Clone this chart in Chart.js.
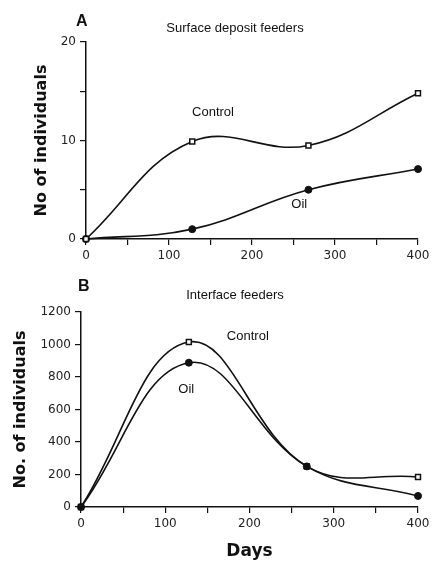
<!DOCTYPE html>
<html>
<head>
<meta charset="utf-8">
<script src="https://cdn.jsdelivr.net/npm/chart.js@4.4.1/dist/chart.umd.min.js"></script>
<style>
  html, body { margin: 0; padding: 0; background: #fff; }
  #wrap { position: relative; width: 434px; height: 562px; }
  #chartA { position: absolute; left: 0; top: 0; }
  #chartB { position: absolute; left: 0; top: 270px; }
</style>
</head>
<body>
<div id="wrap">
  <canvas id="chartA" width="434" height="270"></canvas>
  <canvas id="chartB" width="434" height="292"></canvas>
</div>
<script>
// sampling days
const days = [0, 128, 268, 400];

// A: surface deposit feeders
const surfaceControl = [0, 9.9, 9.5, 14.8];
const surfaceOil = [0, 1.0, 5.0, 7.1];

// B: interface feeders
const interfaceControl = [0, 1015, 250, 185];
const interfaceOil = [0, 888, 250, 68];

const xTickLabels = [0, 100, 200, 300, 400];
const yTickLabelsA = [0, 10, 20];
const yTickLabelsB = [0, 200, 400, 600, 800, 1000, 1200];

const toPoints = (vals) => days.map((d, i) => ({ x: d, y: vals[i] }));

// text placed on the plot in data units
const textPlugin = {
    id: 'panelText',
    afterDraw(chart, args, opts) {
        const ctx = chart.ctx;
        const xs = chart.scales.x, ys = chart.scales.y;
        ctx.save();
        ctx.fillStyle = '#111';
        ctx.textBaseline = 'middle';
        ctx.font = 'bold 16px "Liberation Sans", Arial, sans-serif';
        ctx.textAlign = 'left';
        ctx.fillText(opts.letter, opts.letterPos[0], opts.letterPos[1]);
        ctx.font = '13px "Liberation Sans", Arial, sans-serif';
        ctx.textAlign = 'center';
        ctx.fillText(opts.title, opts.titlePos[0], opts.titlePos[1]);
        opts.labels.forEach(l => {
            ctx.fillText(l.text, xs.getPixelForValue(l.x), ys.getPixelForValue(l.y));
        });
        ctx.restore();
    }
};

function makeChart(id, control, oil, yMax, yStep, yLabels, yTitle, yWidth, titlePad, xHeight, xTitle, oilOnTop, text) {
    const ctx = document.getElementById(id).getContext('2d');
    return new Chart(ctx, {
        type: 'line',
        data: {
            datasets: [{
                label: 'Control',
                data: toPoints(control),
                order: oilOnTop ? 1 : 0,
                clip: false,
                borderColor: '#111',
                borderWidth: 1.6,
                tension: 0.4,
                pointStyle: 'rect',
                pointRadius: 3.5,
                pointBackgroundColor: '#fff',
                pointBorderColor: '#111',
                pointBorderWidth: 1.5
            }, {
                label: 'Oil',
                data: toPoints(oil),
                order: oilOnTop ? 0 : 1,
                clip: false,
                borderColor: '#111',
                borderWidth: 1.6,
                tension: 0.4,
                pointStyle: 'circle',
                pointRadius: 3.5,
                pointBackgroundColor: '#111',
                pointBorderColor: '#111',
                pointBorderWidth: 1
            }]
        },
        options: {
            responsive: false,
            animation: false,
            layout: { padding: { top: 42, right: 16, left: 0, bottom: 0 } },
            plugins: {
                legend: { display: false },
                tooltip: { enabled: false },
                panelText: text
            },
            scales: {
                x: {
                    type: 'linear',
                    min: 0, max: 400,
                    afterFit: (s) => { s.height = xHeight; },
                    border: { display: true, color: '#111', width: 1.5 },
                    grid: { drawOnChartArea: false, drawTicks: true, tickLength: 6, color: '#111', lineWidth: 1.2 },
                    ticks: {
                        stepSize: 50,
                        autoSkip: false,
                        maxRotation: 0,
                        padding: 4,
                        color: '#222',
                        font: { family: '"DejaVu Sans", sans-serif', size: 12 },
                        callback: (v) => xTickLabels.includes(v) ? String(v) : ''
                    },
                    title: {
                        display: !!xTitle,
                        text: xTitle,
                        color: '#111',
                        font: { family: '"DejaVu Sans", sans-serif', size: 17, weight: 'bold' },
                        padding: { top: 0, bottom: 0 }
                    }
                },
                y: {
                    min: 0, max: yMax,
                    afterFit: (s) => { s.width = yWidth; },
                    border: { display: true, color: '#111', width: 1.5 },
                    grid: { drawOnChartArea: false, drawTicks: true, tickLength: 6, color: '#111', lineWidth: 1.2 },
                    ticks: {
                        stepSize: yStep,
                        autoSkip: false,
                        padding: 4,
                        color: '#222',
                        font: { family: '"DejaVu Sans", sans-serif', size: 12 },
                        callback: (v) => yLabels.includes(v) ? String(v) : ''
                    },
                    title: {
                        display: true,
                        text: yTitle,
                        color: '#111',
                        font: { family: '"DejaVu Sans", sans-serif', size: 16, weight: 'bold' },
                        padding: { top: titlePad, bottom: 0 }
                    }
                }
            }
        },
        plugins: [textPlugin]
    });
}

makeChart('chartA', surfaceControl, surfaceOil, 20, 5, yTickLabelsA, 'No of individuals', 86, 32, 31, '', false, {
    letter: 'A', letterPos: [76, 22],
    title: 'Surface deposit feeders', titlePos: [235, 28],
    labels: [{ text: 'Control', x: 153, y: 12.8 }, { text: 'Oil', x: 257, y: 3.55 }]
});

makeChart('chartB', interfaceControl, interfaceOil, 1200, 200, yTickLabelsB, 'No. of individuals', 81, 11, 55, 'Days', true, {
    letter: 'B', letterPos: [78, 17],
    title: 'Interface feeders', titlePos: [235, 25],
    labels: [{ text: 'Control', x: 198, y: 1052 }, { text: 'Oil', x: 125, y: 726 }]
});
</script>
</body>
</html>
